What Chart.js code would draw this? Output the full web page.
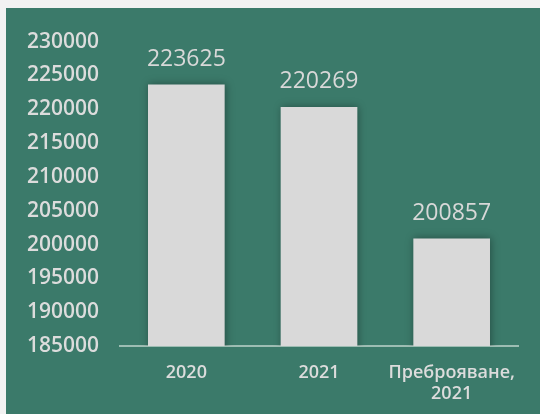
<!DOCTYPE html>
<html>
<head>
<meta charset="utf-8">
<script src="https://cdn.jsdelivr.net/npm/chart.js@4/dist/chart.umd.min.js"></script>
<style>
  html, body { margin: 0; padding: 0; background: #f2f2f2; width: 540px; height: 414px; overflow: hidden; }
  #wrap { position: absolute; left: 6px; top: 8px; width: 534px; height: 406px; background: #3b7a6a; }
  canvas { display: block; }
</style>
</head>
<body>
<div id="wrap"><canvas id="c" width="534" height="406"></canvas></div>
<script>
const categories = ['2020', '2021', ['Преброяване,', '2021']];
const values = [223625, 220269, 200857];
const yMin = 185000;
const yMax = 230000;
const yStep = 5000;

const shadowPlugin = {
  id: 'barShadow',
  beforeDatasetsDraw(chart) {
    const ctx = chart.ctx;
    ctx.save();
    ctx.shadowColor = 'rgba(0,0,0,0.35)';
    ctx.shadowBlur = 8;
    ctx.shadowOffsetX = 1;
    ctx.shadowOffsetY = 0;
  },
  afterDatasetsDraw(chart) {
    chart.ctx.restore();
  }
};

const valueLabels = {
  id: 'valueLabels',
  afterDatasetsDraw(chart) {
    const ctx = chart.ctx;
    const meta = chart.getDatasetMeta(0);
    ctx.save();
    ctx.shadowColor = 'transparent';
    ctx.font = '400 23px "Open Sans"';
    ctx.fillStyle = '#d8d8d8';
    ctx.textAlign = 'center';
    ctx.textBaseline = 'bottom';
    meta.data.forEach((bar, i) => {
      ctx.fillText(String(values[i]), bar.x, bar.y - 14);
    });
    ctx.restore();
  }
};

new Chart(document.getElementById('c'), {
  type: 'bar',
  data: {
    labels: categories,
    datasets: [{
      data: values,
      backgroundColor: '#d9d9d9',
      borderWidth: 0,
      barThickness: 76
    }]
  },
  options: {
    responsive: false,
    animation: false,
    layout: { padding: { top: 30, right: 22, left: 0, bottom: 0 } },
    plugins: { legend: { display: false }, tooltip: { enabled: false } },
    scales: {
      x: {
        grid: { display: false, drawTicks: false },
        border: { display: true, color: '#9dbdb3', width: 2 },
        ticks: {
          color: '#dcdcdc',
          font: { family: 'Open Sans', size: 18, weight: '600', lineHeight: 1.17 },
          padding: 16,
          maxRotation: 0,
          autoSkip: false
        },
        afterFit(scale) { scale.height = 68; }
      },
      y: {
        min: yMin,
        max: yMax,
        grid: { display: false, drawTicks: false },
        border: { display: false },
        ticks: {
          stepSize: yStep,
          color: '#dcdcdc',
          font: { family: 'Open Sans', size: 21, weight: '600' },
          padding: 21,
          callback: v => String(v)
        },
        afterFit(scale) { scale.width = 114; }
      }
    }
  },
  plugins: [shadowPlugin, valueLabels]
});
</script>
</body>
</html>
